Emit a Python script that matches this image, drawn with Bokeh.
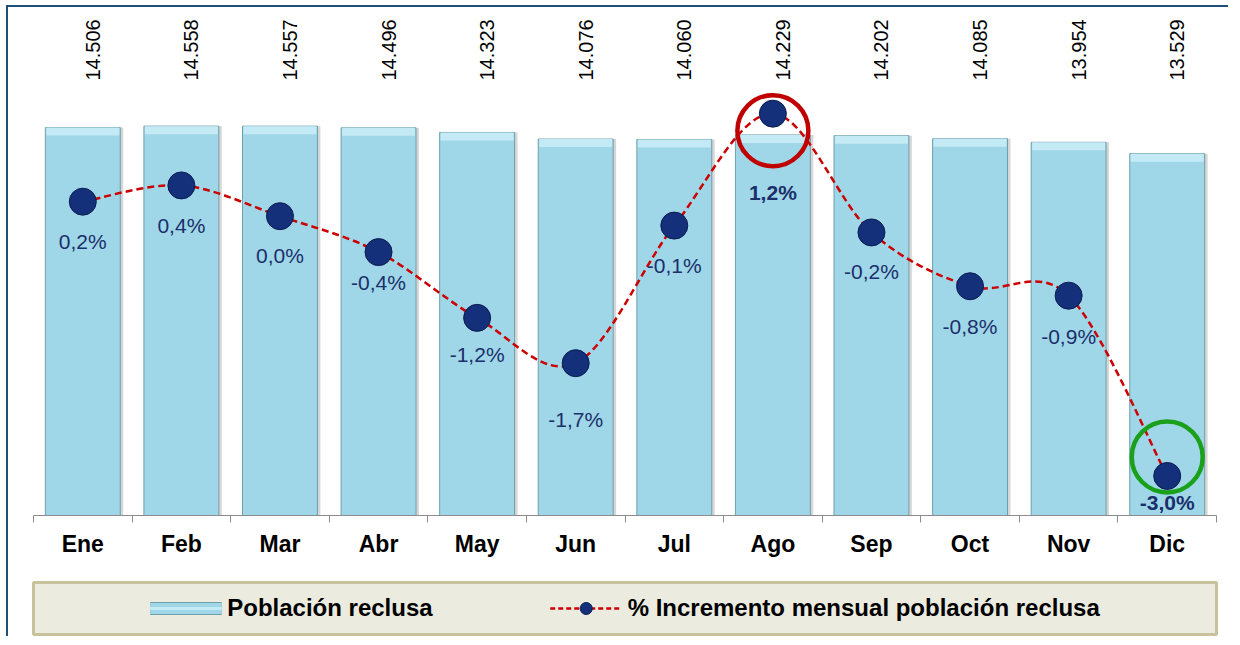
import numpy as np
from bokeh.plotting import figure
from bokeh.models import ColumnDataSource, Range1d, FixedTicker, Legend, LegendItem
from bokeh.layouts import column
from bokeh.embed import file_html
from bokeh.resources import INLINE
from bokeh.core.properties import value, field

# ---------------- data ----------------
months = ["Ene", "Feb", "Mar", "Abr", "May", "Jun", "Jul", "Ago", "Sep", "Oct", "Nov", "Dic"]
poblacion = [14506, 14558, 14557, 14496, 14323, 14076, 14060, 14229, 14202, 14085, 13954, 13529]
incremento = [0.17, 0.36, 0.0, -0.42, -1.19, -1.72, -0.11, 1.20, -0.19, -0.82, -0.93, -3.04]
bold_labels = [7, 11]
highlight_idx = [7, 11]
highlight_colors = ["#c00000", "#1aa01a"]

# ---------------- styles ----------------
label_dy = [40, 40, 39, 30, 37, 56, 40, 79, 39, 40, 41, 27]   # px below point
hl_dy = [17, -19]                                             # px, highlight circle centre shift
W = 1220
BORDER_TOP, BORDER_BOTTOM = 5, 61
FRAME_H = 503
H_MAIN = BORDER_TOP + FRAME_H + BORDER_BOTTOM
Y_MAX = 18807
PCT_MIN, PCT_MAX = -3.503, 2.384
PX_PER_PCT = FRAME_H / (PCT_MAX - PCT_MIN)
UNITS_PER_PX = Y_MAX / FRAME_H
LABEL_Y = Y_MAX - 68 * UNITS_PER_PX
FONT = "Liberation Sans"
NAVY = "#1b2f6b"
BAR_FILL = "#9fd7e8"
BAR_LINE = "#6f9faa"
DOT_FILL = "#14307a"
DOT_LINE = "#0a1c50"
LINE_RED = "#cc0000"

xs = list(range(len(months)))

p = figure(width=W, height=H_MAIN, x_range=Range1d(-0.5, 11.5), y_range=Range1d(0, Y_MAX),
           y_axis_location=None, toolbar_location=None, output_backend="svg",
           min_border_left=25, min_border_right=12, min_border_top=BORDER_TOP,
           min_border_bottom=BORDER_BOTTOM, outline_line_color=None,
           background_fill_color="white", border_fill_color="white")
p.extra_y_ranges = {"pct": Range1d(PCT_MIN, PCT_MAX)}
p.xgrid.visible = False
p.ygrid.visible = False

ax = p.xaxis[0]
ax.ticker = FixedTicker(ticks=xs, minor_ticks=[i - 0.5 for i in range(len(months) + 1)])
ax.major_label_overrides = {i: m for i, m in enumerate(months)}
ax.major_tick_out = 0
ax.major_tick_in = 0
ax.minor_tick_out = 7
ax.minor_tick_in = 0
ax.minor_tick_line_color = "#8c8c8c"
ax.axis_line_color = "#8c8c8c"
ax.major_label_text_font = FONT
ax.major_label_text_font_style = "bold"
ax.major_label_text_font_size = "23px"
ax.major_label_text_color = "black"
ax.major_label_standoff = 8

# bars
bar_src = ColumnDataSource(dict(
    x=xs, top=poblacion,
    xs=[x + 0.03 for x in xs],
    bev=[v - 8 * UNITS_PER_PX for v in poblacion],
    label=[f"{v:,}".replace(",", ".") for v in poblacion],
))
p.vbar(x="xs", top="top", width=0.76, source=bar_src, fill_color="black", fill_alpha=0.16,
       line_color=None)
bars = p.vbar(x="x", top="top", width=0.76, source=bar_src, fill_color=BAR_FILL,
              line_color=BAR_LINE, line_width=1)
p.vbar(x="x", top="top", bottom="bev", width=0.74, source=bar_src, fill_color="#c4ebf5",
       line_color=None)

p.text(x="x", y=LABEL_Y, text="label", source=bar_src, angle=np.pi / 2,
       text_align="left", text_baseline="middle", x_offset=10,
       text_font=value(FONT), text_font_size="20px", text_color="black")

# smoothed dashed line (bezier segments through the points)
n = len(xs)
P = [(xs[0], incremento[0])] + list(zip(xs, incremento)) + [(xs[-1], incremento[-1])]
bz = dict(x0=[], y0=[], x1=[], y1=[], cx0=[], cy0=[], cx1=[], cy1=[])
for i in range(n - 1):
    p0, p1, p2, p3 = P[i], P[i + 1], P[i + 2], P[i + 3]
    bz["x0"].append(p1[0]); bz["y0"].append(p1[1])
    bz["x1"].append(p2[0]); bz["y1"].append(p2[1])
    bz["cx0"].append(p1[0] + (p2[0] - p0[0]) / 6); bz["cy0"].append(p1[1] + (p2[1] - p0[1]) / 6)
    bz["cx1"].append(p2[0] - (p3[0] - p1[0]) / 6); bz["cy1"].append(p2[1] - (p3[1] - p1[1]) / 6)
p.bezier(x0="x0", y0="y0", x1="x1", y1="y1", cx0="cx0", cy0="cy0", cx1="cx1", cy1="cy1",
         source=ColumnDataSource(bz), line_color=LINE_RED, line_width=2.5, line_dash="7 4",
         y_range_name="pct")

pct_src = ColumnDataSource(dict(
    x=xs, y=incremento,
    label=[f"{(round(v, 1) + 0.0):.1f}".replace(".", ",") + "%" for v in incremento],
    dy=label_dy,
    style=["bold" if i in bold_labels else "normal" for i in xs],
))
p.scatter(x="x", y="y", source=pct_src, size=27, fill_color=DOT_FILL, line_color=DOT_LINE,
          line_width=1, y_range_name="pct")
p.text(x="x", y="y", text="label", source=pct_src, y_offset="dy", text_align="center",
       text_baseline="middle", text_font=value(FONT), text_font_size="21px",
       text_font_style=field("style"), text_color=NAVY, y_range_name="pct")

hl_src = ColumnDataSource(dict(
    x=[xs[i] for i in highlight_idx],
    y=[incremento[i] - d / PX_PER_PCT for i, d in zip(highlight_idx, hl_dy)],
    c=highlight_colors,
))
p.scatter(x="x", y="y", source=hl_src, size=71, fill_color=None, line_color="c",
          line_width=4.5, y_range_name="pct")

# ---------------- legend panel ----------------
lf = figure(width=W, height=60, x_range=Range1d(0, 1), y_range=Range1d(0, 1),
            x_axis_location=None, y_axis_location=None, toolbar_location=None,
            output_backend="svg", min_border_left=25, min_border_right=12,
            min_border_top=6, min_border_bottom=2, background_fill_color="#ecebe0",
            border_fill_color="white", outline_line_color="#c8c29c", outline_line_width=3)
lf.grid.visible = False
# swatch renderers: data placed outside the visible range, only their legend glyphs show
lb_edge = lf.line(x=[5, 6], y=[5, 6], line_color=BAR_LINE, line_width=13)
lb_fill = lf.line(x=[5, 6], y=[5, 6], line_color=BAR_FILL, line_width=11)
lb_top = lf.line(x=[5, 6], y=[5, 6], line_color="#c4ebf5", line_width=3)
ll = lf.line(x=[5, 6], y=[5, 6], line_color=LINE_RED, line_width=2.5, line_dash="5 3")
ls = lf.scatter(x=[5], y=[5], fill_color=DOT_FILL, line_color=DOT_LINE)
legend = Legend(items=[LegendItem(label="Población reclusa", renderers=[lb_edge, lb_fill, lb_top]),
                       LegendItem(label="% Incremento mensual población reclusa", renderers=[ll, ls])],
                orientation="horizontal", location="center",
                background_fill_alpha=0, border_line_alpha=0,
                label_text_font=FONT, label_text_font_style="bold", label_text_font_size="24px",
                label_text_color="black", glyph_width=72, glyph_height=30, spacing=117,
                label_standoff=6, padding=0, margin=0)
lf.add_layout(legend, "center")

layout = column(p, lf, spacing=0,
                styles={"border-left": "2px solid #1f4e79", "border-top": "2px solid #1f4e79",
                        "margin-left": "6px", "margin-top": "5px"})

open("out.html", "w").write(file_html(layout, INLINE))
